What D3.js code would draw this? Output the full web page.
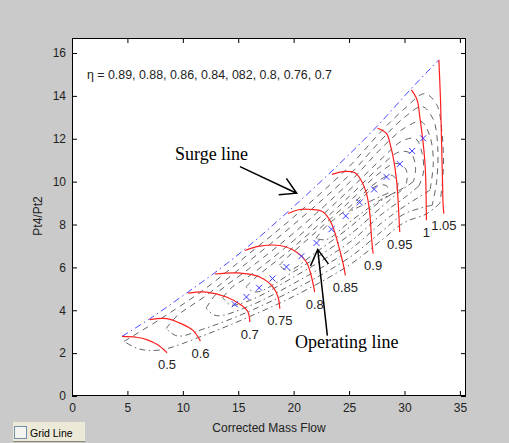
<!DOCTYPE html>
<html>
<head>
<meta charset="utf-8">
<script src="https://cdn.jsdelivr.net/npm/d3@7"></script>
<style>
  body { margin: 0; background: #cacaca; }
  #chart { width: 509px; height: 443px; }
</style>
</head>
<body>
<div id="chart"></div>
<script>
// compressor map values
const xTicks = [0, 5, 10, 15, 20, 25, 30, 35];
const yTicks = [0, 2, 4, 6, 8, 10, 12, 14, 16];

const speedLabels = ['0.5', '0.6', '0.7', '0.75', '0.8', '0.85', '0.9', '0.95', '1', '1.05'];
const speedLines = [
    [[4.51, 2.78], [5.81, 2.74], [6.8, 2.62], [7.7, 2.4], [8.57, 2.02]],
    [[7.01, 3.56], [8.52, 3.61], [9.87, 3.37], [10.92, 3.06], [11.59, 2.56]],
    [[10.47, 4.8], [12.13, 4.85], [13.94, 4.62], [15.29, 4.23], [15.88, 3.92], [16.04, 3.45]],
    [[12.88, 5.69], [14.98, 5.74], [16.94, 5.55], [18.14, 5.08], [18.59, 4.62], [18.75, 4.07]],
    [[15.6, 6.79], [16.94, 6.99], [18.75, 7.02], [20.25, 6.72], [21.15, 6.25], [21.61, 5.55], [21.9, 4.85]],
    [[19.49, 8.51], [20.56, 8.7], [21.6, 8.7], [22.63, 8.59], [23.41, 8.05], [24.0, 7.11], [24.46, 6.18], [24.67, 5.63]],
    [[23.46, 10.34], [24.5, 10.47], [25.52, 10.41], [26.12, 10.03], [26.57, 9.45], [26.87, 8.52], [27.02, 7.42], [27.17, 6.64]],
    [[27.56, 12.49], [28.37, 12.25], [28.76, 11.63], [29.03, 11.0], [29.28, 10.07], [29.42, 9.14], [29.51, 8.27], [29.57, 7.65]],
    [[30.63, 14.28], [31.14, 13.81], [31.38, 13.03], [31.62, 12.09], [31.83, 11.0], [31.92, 10.07], [31.97, 8.59], [31.98, 8.2]],
    [[33.1, 15.68], [33.25, 13.81], [33.34, 11.94], [33.43, 10.07], [33.48, 8.98], [33.55, 8.51]]
];

const surgeLine = [[4.51, 2.78], [7.01, 3.6], [10.47, 4.85], [12.88, 5.75], [15.6, 6.85], [19.49, 8.6],
    [23.46, 10.5], [27.56, 12.6], [30.63, 14.35], [33.1, 15.68]];

const opFlow = [14.68, 15.74, 16.88, 18.09, 19.35, 20.7, 22.06, 23.41, 24.7, 25.96, 27.26, 28.38, 29.58, 30.69, 31.68];
const opRatio = [4.28, 4.62, 5.05, 5.48, 6.02, 6.52, 7.14, 7.78, 8.4, 9.03, 9.64, 10.22, 10.82, 11.43, 12.02];

// efficiency islands, outer (0.7) to inner (0.89); upper side dashed, lower side dash-dot
const effLevels = [0.7, 0.76, 0.8, 0.82, 0.84, 0.86, 0.88, 0.89];
const effUpper = [
    [[4.7, 2.55], [8, 3.6], [12, 5.0], [16, 6.65], [20, 8.35], [25, 10.7], [28, 12.4], [30, 13.4], [31.8, 14.1], [32.9, 13.6], [33.4, 12.2], [33.5, 10.5], [33.2, 9.0]],
    [[8.5, 3.15], [9.5, 3.75], [12, 4.65], [16, 6.3], [20, 8.0], [25, 10.3], [28, 12.0], [30, 13.0], [31.6, 13.5], [32.6, 12.9], [33.0, 11.6], [32.9, 10.0], [32.5, 8.9]],
    [[12.1, 4.1], [13, 4.75], [16, 5.95], [20, 7.6], [25, 9.95], [28, 11.6], [30, 12.5], [31.5, 12.8], [32.3, 12.1], [32.6, 10.9], [32.3, 9.6]],
    [[13.6, 4.6], [14.5, 5.1], [16, 5.6], [20, 7.25], [25, 9.6], [28, 11.1], [29.8, 11.9], [31.0, 12.0], [31.6, 11.3], [31.7, 10.4], [31.3, 9.8]],
    [[15.7, 5.1], [16.5, 5.5], [20, 6.95], [25, 9.3], [28, 10.8], [29.6, 11.4], [30.6, 11.3], [31.0, 10.6], [30.8, 10.0]],
    [[18.7, 6.1], [19.5, 6.5], [22, 7.65], [25, 9.05], [27.5, 10.3], [29.2, 10.85], [30.1, 10.6], [30.2, 10.0], [29.9, 9.7]],
    [[22.0, 7.35], [23, 7.95], [25, 8.8], [27.3, 9.9], [28.8, 10.3], [29.4, 9.95], [29.2, 9.5]],
    [[25, 8.6], [26, 9.15], [27.5, 9.8], [28.4, 9.8], [28.5, 9.45]]
];
const effLower = [
    [[33.2, 9.0], [32, 8.5], [30, 8.1], [28, 7.3], [25, 6.1], [20, 4.65], [16, 3.7], [12, 2.85], [8, 2.15], [6, 2.2], [4.7, 2.55]],
    [[32.5, 8.9], [30, 8.5], [28, 7.7], [25, 6.45], [20, 4.95], [16, 3.95], [12, 3.15], [9.5, 2.8], [8.5, 3.15]],
    [[32.3, 9.6], [30, 8.85], [28, 8.1], [25, 6.8], [20, 5.25], [16, 4.2], [13, 3.75], [12.1, 4.1]],
    [[31.3, 9.8], [30, 9.25], [28, 8.5], [25, 7.15], [20, 5.55], [16, 4.45], [14.3, 4.25], [13.6, 4.6]],
    [[30.8, 10.0], [29.5, 9.5], [28, 8.85], [25, 7.5], [20, 5.8], [16.6, 4.85], [15.7, 5.1]],
    [[29.9, 9.7], [28, 9.15], [25, 7.85], [22, 6.7], [19.5, 5.85], [18.7, 6.1]],
    [[29.2, 9.5], [28, 9.2], [25, 8.1], [23, 7.3], [22, 7.35]],
    [[28.5, 9.45], [28, 9.35], [26, 8.85], [25, 8.6]]
];

createChart();

function createChart() {
    const svg = d3.select('#chart')
        .append('svg')
        .attr('width', 509)
        .attr('height', 443);

    svg.append('rect')
        .attr('width', 509)
        .attr('height', 443)
        .attr('fill', '#cacaca');

    const box = { left: 72, top: 38, right: 466, bottom: 396 };

    const x = d3.scaleLinear().domain([0, 35.55]).range([box.left, box.right]);
    const y = d3.scaleLinear().domain([0, 16.7]).range([box.bottom, box.top]);

    svg.append('rect')
        .attr('x', box.left)
        .attr('y', box.top)
        .attr('width', box.right - box.left)
        .attr('height', box.bottom - box.top)
        .attr('fill', '#ffffff');

    const font = 'Liberation Sans, Arial, sans-serif';
    const serif = 'Liberation Serif, Times New Roman, serif';

    const plot = svg.append('g');

    // efficiency contours
    const curve = d3.line()
        .x(d => x(d[0]))
        .y(d => y(d[1]))
        .curve(d3.curveCatmullRom);

    plot.selectAll('.eff-up')
        .data(effUpper)
        .enter().append('path')
        .attr('class', 'eff-up')
        .attr('d', curve)
        .attr('fill', 'none')
        .attr('stroke', '#3c3c3c')
        .attr('stroke-width', 0.8)
        .attr('stroke-dasharray', '6,5');

    plot.selectAll('.eff-low')
        .data(effLower)
        .enter().append('path')
        .attr('class', 'eff-low')
        .attr('d', curve)
        .attr('fill', 'none')
        .attr('stroke', '#3c3c3c')
        .attr('stroke-width', 0.8)
        .attr('stroke-dasharray', '6,3.5,1.5,3.5');

    // surge line
    plot.append('path')
        .datum(surgeLine)
        .attr('d', d3.line().x(d => x(d[0])).y(d => y(d[1])).curve(d3.curveMonotoneX))
        .attr('fill', 'none')
        .attr('stroke', '#4a4aff')
        .attr('stroke-width', 1)
        .attr('stroke-dasharray', '7,3.5,1.5,3.5');

    // speed lines
    plot.selectAll('.speed')
        .data(speedLines)
        .enter().append('path')
        .attr('class', 'speed')
        .attr('d', curve)
        .attr('fill', 'none')
        .attr('stroke', '#ff1f1f')
        .attr('stroke-width', 1.2);

    plot.selectAll('.speed-label')
        .data(speedLines)
        .enter().append('text')
        .attr('class', 'speed-label')
        .attr('x', d => x(d[d.length - 1][0]))
        .attr('y', d => y(d[d.length - 1][1]) + 12)
        .attr('dy', '0.35em')
        .attr('text-anchor', 'middle')
        .style('font-family', font)
        .style('font-size', '13px')
        .attr('fill', '#222')
        .text((d, i) => speedLabels[i]);

    // operating line markers
    const s = 3;
    plot.selectAll('.op')
        .data(opFlow)
        .enter().append('path')
        .attr('class', 'op')
        .attr('d', (d, i) => {
            const cx = x(d), cy = y(opRatio[i]);
            return 'M' + (cx - s) + ',' + (cy - s) + 'L' + (cx + s) + ',' + (cy + s) +
                'M' + (cx - s) + ',' + (cy + s) + 'L' + (cx + s) + ',' + (cy - s);
        })
        .attr('stroke', '#3a3aff')
        .attr('stroke-width', 1);

    // annotations
    const annotations = [
        { text: 'Surge line', tx: 9.29, ty: 11.01, from: [15.16, 10.7], to: [20.27, 9.46] },
        { text: 'Operating line', tx: 20.12, ty: 2.24, from: [23.04, 2.82], to: [22.17, 6.84] }
    ];

    annotations.forEach(a => {
        const x1 = x(a.from[0]), y1 = y(a.from[1]);
        const x2 = x(a.to[0]), y2 = y(a.to[1]);
        const ang = Math.atan2(y1 - y2, x1 - x2);
        const len = 18, spread = Math.PI / 6;
        const path = 'M' + x1 + ',' + y1 + 'L' + x2 + ',' + y2 +
            'M' + (x2 + len * Math.cos(ang - spread)) + ',' + (y2 + len * Math.sin(ang - spread)) +
            'L' + x2 + ',' + y2 +
            'L' + (x2 + len * Math.cos(ang + spread)) + ',' + (y2 + len * Math.sin(ang + spread));
        svg.append('path')
            .attr('d', path)
            .attr('fill', 'none')
            .attr('stroke', '#000')
            .attr('stroke-width', 1.5);
        svg.append('text')
            .attr('x', x(a.tx))
            .attr('y', y(a.ty))
            .style('font-family', serif)
            .style('font-size', '18px')
            .attr('fill', '#000')
            .text(a.text);
    });

    svg.append('text')
        .attr('x', x(1.35))
        .attr('y', y(14.79))
        .style('font-family', font)
        .style('font-size', '12.4px')
        .attr('fill', '#222')
        .text('\u03b7 = ' + effLevels.slice().reverse().map(v => v === 0.82 ? '082' : String(v)).join(', '));

    // axes, ticks pointing inward on all four sides
    const axisStyle = g => {
        g.selectAll('text').style('font-family', font).style('font-size', '12px').attr('fill', '#222');
        g.selectAll('line').attr('stroke', '#000');
        g.select('.domain').remove();
    };

    svg.append('g')
        .attr('transform', 'translate(0,' + box.bottom + ')')
        .call(d3.axisBottom(x).tickValues(xTicks).tickSizeInner(-5).tickSizeOuter(0).tickPadding(7))
        .call(axisStyle);

    svg.append('g')
        .attr('transform', 'translate(0,' + box.top + ')')
        .call(d3.axisTop(x).tickValues(xTicks).tickSizeInner(-5).tickSizeOuter(0).tickFormat(''))
        .call(axisStyle);

    svg.append('g')
        .attr('transform', 'translate(' + box.left + ',0)')
        .call(d3.axisLeft(y).tickValues(yTicks).tickSizeInner(-5).tickSizeOuter(0).tickPadding(6))
        .call(axisStyle);

    svg.append('g')
        .attr('transform', 'translate(' + box.right + ',0)')
        .call(d3.axisRight(y).tickValues(yTicks).tickSizeInner(-5).tickSizeOuter(0).tickFormat(''))
        .call(axisStyle);

    svg.append('rect')
        .attr('x', box.left + 0.5)
        .attr('y', box.top + 0.5)
        .attr('width', box.right - box.left - 1)
        .attr('height', box.bottom - box.top - 1)
        .attr('fill', 'none')
        .attr('stroke', '#000')
        .attr('stroke-width', 1);

    svg.append('text')
        .attr('x', (box.left + box.right) / 2)
        .attr('y', 432)
        .attr('text-anchor', 'middle')
        .style('font-family', font)
        .style('font-size', '12px')
        .attr('fill', '#222')
        .text('Corrected Mass Flow');

    svg.append('text')
        .attr('transform', 'translate(42,216) rotate(-90)')
        .attr('text-anchor', 'middle')
        .style('font-family', font)
        .style('font-size', '12px')
        .attr('fill', '#222')
        .text('Pt4/Pt2');

    // "Grid Line" check box
    const cb = svg.append('g');
    cb.append('rect')
        .attr('x', 13).attr('y', 422).attr('width', 72).attr('height', 20)
        .attr('fill', '#ece9d8');
    cb.append('line')
        .attr('x1', 13).attr('x2', 85).attr('y1', 441.5).attr('y2', 441.5)
        .attr('stroke', '#8a877a');
    cb.append('rect')
        .attr('x', 14.5).attr('y', 426.5).attr('width', 12).attr('height', 12)
        .attr('fill', '#f4f4f0')
        .attr('stroke', '#1c5180')
        .attr('stroke-opacity', 0.6);
    cb.append('text')
        .attr('x', 30).attr('y', 437)
        .style('font-family', font)
        .style('font-size', '10.5px')
        .attr('fill', '#000')
        .text('Grid Line');
}
</script>
</body>
</html>
